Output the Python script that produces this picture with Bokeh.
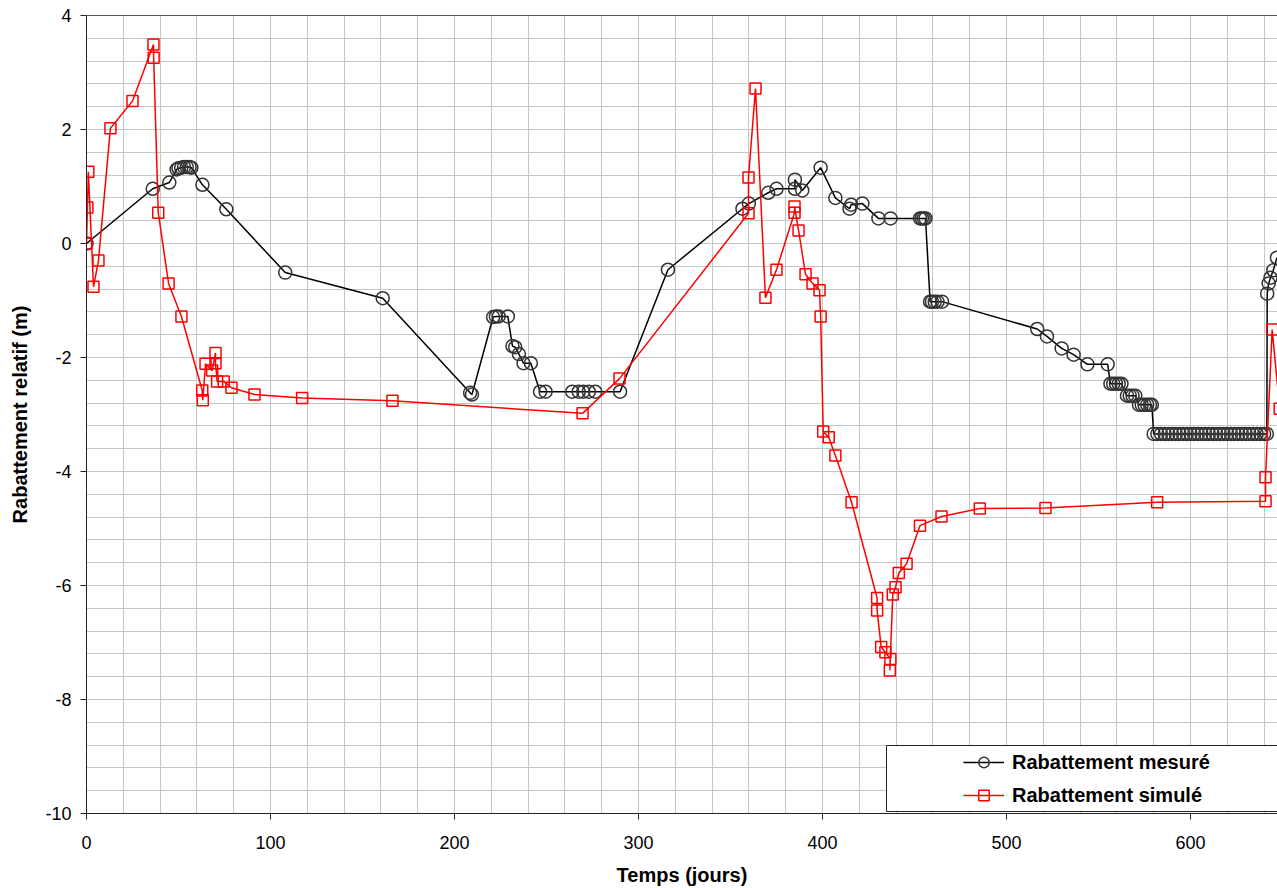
from bokeh.plotting import figure
from bokeh.models import (SingleIntervalTicker, LinearAxis, Legend, LegendItem,
                          BoxAnnotation, FixedTicker, Range1d, ColumnDataSource,
                          PrintfTickFormatter)
from bokeh.embed import file_html
from bokeh.resources import INLINE

# ---- data: Rabattement mesuré ----
mes_t = [0, 36, 45, 49, 50, 51.5, 53, 54.5, 56, 57, 63, 76, 108, 161,
         208.5, 209.5, 221, 222.5, 224, 229, 231.5, 233, 235, 237.5, 241.5,
         246.5, 249.5, 264, 267.5, 270, 273, 276.5, 290, 316,
         356.5, 360, 370.5, 375, 385, 385, 389, 399, 407, 414.7, 415.6, 421.7,
         430.4, 437, 453, 454, 455, 456,
         458.5, 459.5, 461, 462.5, 465,
         516.7, 522, 530, 536.5, 544, 555,
         556.5, 558, 559.5, 561, 562.5,
         565.5, 567, 568.5, 570,
         572, 573.5, 575, 576.5, 578, 579,
         580, 582, 584, 586, 588, 590, 592, 594, 596, 598, 600, 602, 604, 606,
         608, 610, 612, 614, 616, 618, 620, 622, 624, 626, 628, 630, 632, 634,
         636, 638, 640, 641.5,
         641.7, 642.5, 643.5, 645, 647]
mes_v = [0.00, 0.96, 1.07, 1.30, 1.32, 1.33, 1.34, 1.34, 1.34, 1.33, 1.03, 0.60, -0.51, -0.96,
         -2.62, -2.65, -1.29, -1.28, -1.28, -1.28, -1.80, -1.82, -1.94, -2.10, -2.10,
         -2.60, -2.60, -2.60, -2.60, -2.60, -2.60, -2.60, -2.60, -0.46,
         0.61, 0.70, 0.89, 0.96, 0.96, 1.12, 0.93, 1.33, 0.80, 0.61, 0.68, 0.70,
         0.44, 0.44, 0.44, 0.44, 0.44, 0.44,
         -1.02, -1.02, -1.02, -1.02, -1.02,
         -1.50, -1.63, -1.84, -1.95, -2.12, -2.12,
         -2.46, -2.46, -2.46, -2.46, -2.46,
         -2.67, -2.67, -2.67, -2.67,
         -2.83, -2.83, -2.83, -2.83, -2.83, -2.83,
         -3.34, -3.34, -3.34, -3.34, -3.34, -3.34, -3.34, -3.34, -3.34, -3.34, -3.34, -3.34, -3.34, -3.34,
         -3.34, -3.34, -3.34, -3.34, -3.34, -3.34, -3.34, -3.34, -3.34, -3.34, -3.34, -3.34, -3.34, -3.34,
         -3.34, -3.34, -3.34, -3.34,
         -0.88, -0.70, -0.60, -0.47, -0.25]

# ---- data: Rabattement simulé ----
sim_t = [0, 0.5, 1, 3.8, 6.5, 13, 25, 36.4, 36.5, 39, 44.6, 51.6,
         62.9, 63.2, 64.7, 68.3, 70.1, 70.1, 71, 74.6, 78.8, 91.3, 117.2, 166.3,
         269.6, 289.7, 359.8, 359.8, 363.6, 369, 375, 384.8, 384.8, 387, 390.8,
         394.6, 398.4, 399, 400.4, 403.4, 407, 415.8, 429.7, 429.7, 431.9, 434.2,
         436.9, 436.6, 438.2, 439.7, 441.5, 445.7, 453, 464.7, 485.5, 521.2,
         581.9, 640.8, 640.8, 644.4, 648.5]
sim_v = [0.00, 0.63, 1.26, -0.76, -0.30, 2.02, 2.50, 3.49, 3.26, 0.54, -0.70, -1.28,
         -2.58, -2.75, -2.11, -2.23, -1.92, -2.10, -2.42, -2.42, -2.53, -2.65, -2.71, -2.76,
         -2.98, -2.37, 0.53, 1.16, 2.72, -0.95, -0.46, 0.54, 0.65, 0.23, -0.54,
         -0.70, -0.82, -1.28, -3.30, -3.40, -3.72, -4.54, -6.22, -6.44, -7.08, -7.17,
         -7.29, -7.49, -6.16, -6.03, -5.78, -5.62, -4.95, -4.79, -4.65, -4.64,
         -4.54, -4.52, -4.10, -1.51, -2.90]

x_ticks_interval = 100
y_ticks_interval = 2

FONT = "Liberation Sans"

p = figure(width=1277, height=888, output_backend="svg", toolbar_location=None,
           x_range=Range1d(0, 647.3), y_range=Range1d(-10, 4),
           min_border_left=86, min_border_right=0, min_border_top=15, min_border_bottom=75,
           x_axis_label="Temps (jours)", y_axis_label="Rabattement relatif (m)",
           background_fill_color="white", border_fill_color="white")
p.outline_line_color = None

xt = SingleIntervalTicker(interval=x_ticks_interval, num_minor_ticks=5)
yt = SingleIntervalTicker(interval=y_ticks_interval, num_minor_ticks=5)
p.xaxis.ticker = xt
p.yaxis.ticker = yt
p.xgrid.ticker = xt
p.ygrid.ticker = yt
p.xaxis.formatter = PrintfTickFormatter(format="%d")
p.yaxis.formatter = PrintfTickFormatter(format="%d")

for g in (p.xgrid, p.ygrid):
    g.grid_line_color = "#c6c6c6"
    g.grid_line_width = 1
    g.minor_grid_line_color = "#c6c6c6"
    g.minor_grid_line_width = 1

for ax in (p.xaxis, p.yaxis):
    ax.axis_line_color = "#222222"
    ax.axis_line_width = 1
    ax.major_tick_line_color = "#222222"
    ax.major_tick_out = 6
    ax.major_tick_in = 0
    ax.minor_tick_line_color = None
    ax.major_label_text_font = FONT
    ax.major_label_text_font_size = "18px"
    ax.major_label_text_color = "black"
    ax.axis_label_text_font = FONT
    ax.axis_label_text_font_style = "bold"
    ax.axis_label_text_font_size = "20px"
    ax.axis_label_text_color = "black"

p.xaxis.major_label_standoff = 16
p.xaxis.axis_label_standoff = 12
p.yaxis.major_label_standoff = 9
p.yaxis.axis_label_standoff = 11

top_axis = LinearAxis(ticker=FixedTicker(ticks=[]), major_label_text_font_size="0px",
                      major_tick_out=0, major_tick_in=0, minor_tick_out=0, minor_tick_in=0,
                      major_label_standoff=0, axis_line_color="#555555", axis_line_width=1)
p.add_layout(top_axis, "above")

src_m = ColumnDataSource(dict(t=mes_t, v=mes_v))
src_s = ColumnDataSource(dict(t=sim_t, v=sim_v))

l1 = p.line("t", "v", source=src_m, line_color="black", line_width=1.5)
s1 = p.scatter("t", "v", source=src_m, marker="circle", size=13, line_color="#333333",
               line_width=1.5, fill_color=None)
l2 = p.line("t", "v", source=src_s, line_color="#ff0000", line_width=1.5)
s2 = p.scatter("t", "v", source=src_s, marker="square", size=11, line_color="#ff0000",
               line_width=1.5, fill_color=None)

box = BoxAnnotation(left=800, right=1400, bottom=2, top=68,
                    left_units="screen", right_units="screen",
                    top_units="screen", bottom_units="screen",
                    fill_color="white", fill_alpha=1.0,
                    line_color="#222222", line_width=1, line_alpha=1.0)
p.add_layout(box)

legend = Legend(items=[LegendItem(label="Rabattement mesuré", renderers=[l1, s1]),
                       LegendItem(label="Rabattement simulé", renderers=[l2, s2])],
                location=(877, 5), orientation="vertical",
                border_line_color=None, background_fill_alpha=0.0,
                padding=0, margin=0, spacing=7,
                glyph_width=41, glyph_height=26, label_height=26, label_standoff=8,
                label_text_font=FONT, label_text_font_style="bold",
                label_text_font_size="20px", label_text_color="black")
p.add_layout(legend)

open("out.html", "w").write(file_html(p, INLINE))
